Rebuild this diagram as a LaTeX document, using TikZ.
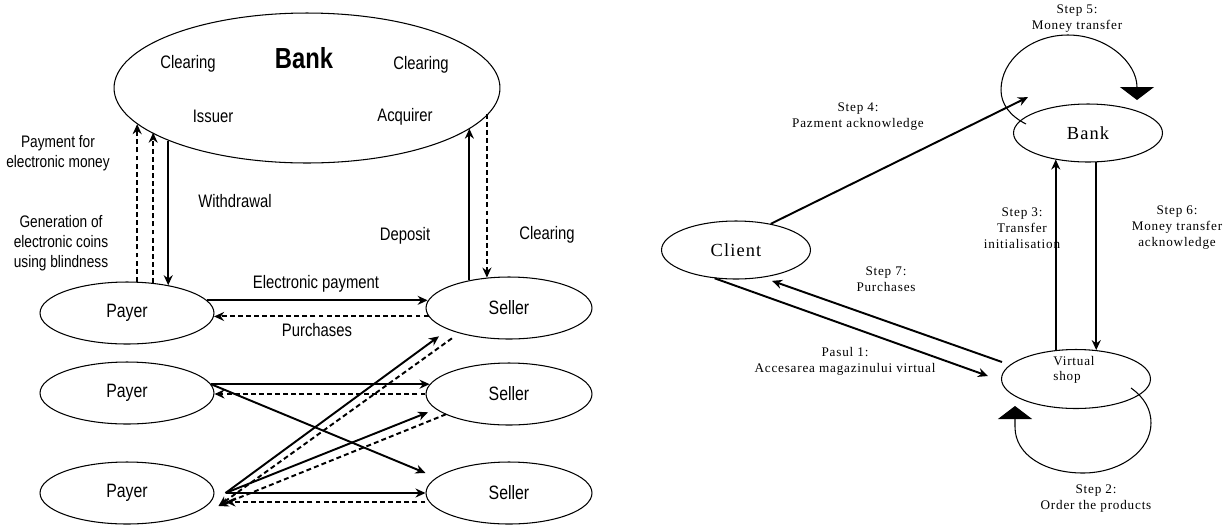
\documentclass[tikz,border=0pt]{standalone}
\usepackage{fontspec}
\setmainfont{Liberation Sans}[FakeStretch=0.82]
\newfontfamily\stepfont{Liberation Serif}[LetterSpace=6]
\usetikzlibrary{arrows.meta,shapes.geometric}

\begin{document}
\begin{tikzpicture}[x=0.02cm, y=-0.02cm,
      oval/.style={ellipse, draw, line width=0.6pt, inner sep=0pt},
      bigoval/.style={oval, minimum width=7.72cm, minimum height=3cm},
      payeroval/.style={oval, minimum width=3.48cm, minimum height=1.24cm, font=\fontsize{11}{13}\selectfont},
      selleroval/.style={oval, minimum width=3.32cm, minimum height=1.24cm, font=\fontsize{11}{13}\selectfont},
      stepoval/.style={oval, minimum width=2.98cm, minimum height=1.16cm, font=\stepfont\fontsize{10.5}{12}\selectfont},
      flow/.style={-{Stealth[length=0.2cm,width=0.18cm]}, line width=1.1pt},
      back/.style={flow, dash pattern=on 2.8pt off 1.8pt},
      word/.style={inner sep=0pt, align=center, font=\fontsize{10.3}{12}\selectfont},
      note/.style={inner sep=0pt, align=center, font=\fontsize{9.5}{11.4}\selectfont},
      steptext/.style={inner sep=0pt, align=center, font=\stepfont\fontsize{7.5}{9.1}\selectfont},
      loop/.style={line width=0.6pt, -{Triangle[length=0.26cm,width=0.68cm]}}]

    \path[fill=white] (0,0) rectangle (1227,525);
    \useasboundingbox (0,0) rectangle (1227,525);

    % left: electronic money
    \node[bigoval] (bank) at (307,88) {};
    \node[word] (clrI) at (188,64) {Clearing};
    \node[word, font=\fontsize{16.5}{18}\selectfont\bfseries] (bankname) at (304,58) {Bank};
    \node[word] (clrA) at (421,65) {Clearing};
    \node[word] (issuer) at (213,116) {Issuer};
    \node[word] (acquirer) at (405,117) {Acquirer};

    \node[payeroval] (payer1) at (127,313) {Payer};
    \node[payeroval] (payer2) at (127,393) {Payer};
    \node[payeroval] (payer3) at (127,493) {Payer};

    \node[selleroval] (seller1) at (509,308) {Seller};
    \node[selleroval] (seller2) at (509,394) {Seller};
    \node[selleroval] (seller3) at (509,493) {Seller};

    \node[note] (paylbl) at (58,153) {Payment for\\electronic money};
    \node[note] (genlbl) at (61,243) {Generation of\\electronic coins\\using blindness};
    \node[word] (wdlbl) at (235,201) {Withdrawal};
    \node[word] (deplbl) at (405,236) {Deposit};
    \node[word] (clrlbl) at (547,235) {Clearing};
    \node[word] (eplbl) at (316,284) {Electronic payment};
    \node[word] (purlbl) at (317,330) {Purchases};

    \draw[back] (payer1.72) -- (payer1.72 |- bank.192);
    \draw[back] (payer1.49) -- (payer1.49 |- bank.196);
    \draw[flow] (payer1.34 |- bank.201) -- (payer1.34);
    \draw[flow] (seller1.145) -- (seller1.145 |- bank.346);
    \draw[back] (seller1.126 |- bank.352) -- (seller1.126);

    \draw[flow] (payer1.9) -- (payer1.9 -| seller1.175);
    \draw[back] (seller1.186) -- (seller1.186 -| payer1.358);
    \draw[flow] (payer2.6) -- (payer2.6 -| seller2.173);
    \draw[back] (seller2.west) -- (seller2.west -| payer2.east);
    \draw[flow] (payer2.6) -- ([yshift=0.4cm]seller3.west);

    \coordinate (out3) at ([xshift=0.22cm]payer3.east);
    \coordinate (in3) at ([shift={(4,13)}]payer3.east);
    \draw[flow] (out3) -- (out3 -| seller3.west);
    \draw[back] ([yshift=-0.18cm]seller3.west) -- ([yshift=-0.18cm]out3);
    \draw[flow] (out3) -- ([shift={(-11,6)}]seller1.south west);
    \draw[back] ([shift={(2,8)}]seller1.south west) -- (in3);
    \draw[flow] (out3) -- ([shift={(-22,-4)}]seller2.south west);
    \draw[back] ([shift={(-4,-2)}]seller2.south west) -- (in3);

    % right: virtual shop
    \node[stepoval] (bankR) at (1088,133) {Bank};
    \node[stepoval] (client) at (736,250) {Client};
    \node[stepoval, minimum height=1.18cm] (vshop) at (1076,379) {};
    \node[steptext, align=left, anchor=west, font=\stepfont\fontsize{7.5}{8.5}\selectfont] (vtext) at (1053,370) {Virtual\\shop};

    \node[steptext] (s4) at (858,117) {Step 4:\\Pazment acknowledge};
    \node[steptext] (s5) at (1077,19) {Step 5:\\Money transfer};
    \node[steptext] (s3) at (1022,228) {Step 3:\\Transfer\\initialisation};
    \node[steptext] (s6) at (1177,228) {Step 6:\\Money transfer\\acknowledge};
    \node[steptext] (s7) at (886,279) {Step 7:\\Purchases};
    \node[steptext] (s1) at (845,361) {Pasul 1:\\Accesarea magazinului virtual};
    \node[steptext] (s2) at (1096,499) {Step 2:\\Order the products};

    \draw[flow] (client.37) -- ([shift={(-7,-15)}]bankR.north west);
    \draw[flow] (vshop.125) -- (vshop.125 |- bankR.219);
    \draw[flow] (vshop.55 |- bankR.286) -- (vshop.55);
    \draw[flow] ([shift={(1,-17)}]vshop.west) -- ([shift={(-17,10)}]client.south east);
    \draw[flow] (client.233) -- ([shift={(-13,-3)}]vshop.west);

    \draw[loop] ([shift={(-62,-9)}]bankR.center) .. controls (1010,116) and (1001,104) .. (1001,90)
      .. controls (1001,60) and (1031,35) .. (1068,35) .. controls (1106,35) and (1137,62) .. (1137,100);
    \draw[loop] ([shift={(55,9)}]vshop.center) .. controls (1145,398) and (1151,410) .. (1151,423)
      .. controls (1151,451) and (1120,473) .. (1083,473) .. controls (1045,473) and (1015,455) .. (1015,427) -- (1015,406);

  \end{tikzpicture}
\end{document}
